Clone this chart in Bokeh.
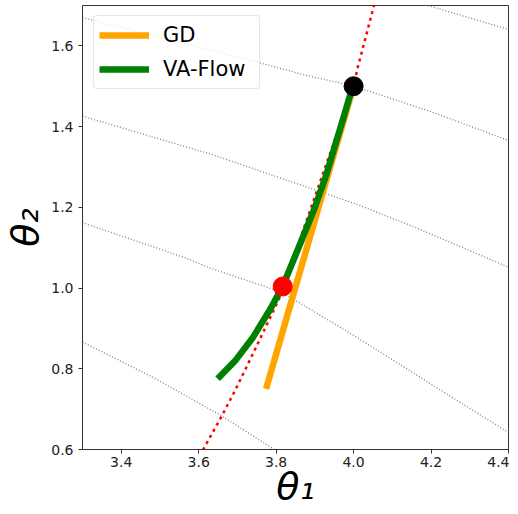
from bokeh.plotting import figure
from bokeh.models import FixedTicker, Legend, LegendItem, Range1d
from bokeh.embed import file_html
from bokeh.resources import INLINE

# ---- data ----
x_ticks = [3.4, 3.6, 3.8, 4.0, 4.2, 4.4]
x_tick_labels = ["3.4", "3.6", "3.8", "4.0", "4.2", "4.4"]
y_ticks = [0.6, 0.8, 1.0, 1.2, 1.4, 1.6]
y_tick_labels = ["0.6", "0.8", "1.0", "1.2", "1.4", "1.6"]

# loss contours (dotted grey)
contour_e_x = [4.118, 4.192, 4.399]
contour_e_y = [1.721, 1.700, 1.641]
contour_a_x = [3.300, 3.530, 3.762, 3.869, 4.001, 4.200, 4.399]
contour_a_y = [1.670, 1.614, 1.557, 1.529, 1.500, 1.437, 1.366]
contour_b_x = [3.300, 3.598, 3.628, 3.916, 4.015, 4.160, 4.399]
contour_b_y = [1.426, 1.341, 1.333, 1.238, 1.205, 1.150, 1.052]
contour_c_x = [3.300, 3.568, 3.628, 3.816, 4.015, 4.200, 4.400]
contour_c_y = [1.162, 1.074, 1.050, 0.989, 0.874, 0.762, 0.642]
contour_d_x = [3.300, 3.480, 3.658, 3.792, 3.834]
contour_d_y = [0.866, 0.780, 0.684, 0.602, 0.575]

# red dotted curve
red_x = [3.611, 3.658, 3.696, 3.744, 3.808, 4.000, 4.010, 4.053]
red_y = [0.599, 0.680, 0.750, 0.845, 0.974, 1.500, 1.544, 1.701]

# GD trajectory
gd_x = [4.000, 3.774]
gd_y = [1.500, 0.750]

# VA-Flow trajectory
va_x = [3.998, 3.981, 3.955, 3.929, 3.899, 3.864, 3.827, 3.817, 3.787, 3.739, 3.696, 3.649]
va_y = [1.501, 1.445, 1.362, 1.279, 1.197, 1.114, 1.028, 1.005, 0.951, 0.876, 0.822, 0.775]

# markers
start_x, start_y = [4.000], [1.500]
mid_x, mid_y = [3.817], [1.004]

FONT = "DejaVu Sans"

p = figure(
    output_backend="svg",
    toolbar_location=None,
    frame_width=426,
    frame_height=444,
    min_border_left=75,
    min_border_right=1,
    min_border_top=5,
    min_border_bottom=40,
    x_range=Range1d(3.3, 4.4),
    y_range=Range1d(0.6, 1.7),
)
p.background_fill_color = "white"
p.border_fill_color = "white"
p.outline_line_color = "#333333"
p.outline_line_width = 1
p.xgrid.visible = False
p.ygrid.visible = False

for c_x, c_y in [(contour_e_x, contour_e_y), (contour_a_x, contour_a_y),
                 (contour_b_x, contour_b_y), (contour_c_x, contour_c_y),
                 (contour_d_x, contour_d_y)]:
    p.line(c_x, c_y, line_color="#7f7f7f", line_width=1.3, line_dash="1 2")

p.line(red_x, red_y, line_color="red", line_width=2.5, line_dash="3 4")
r_gd = p.line(gd_x, gd_y, line_color="orange", line_width=6.5)
r_va = p.line(va_x, va_y, line_color="green", line_width=6.5, line_join="round")
p.scatter(start_x, start_y, size=19, fill_color="black", line_color="black")
p.scatter(mid_x, mid_y, size=19, fill_color="red", line_color="red")

# axes
for ax, ticks, labels in [(p.xaxis[0], x_ticks, x_tick_labels), (p.yaxis[0], y_ticks, y_tick_labels)]:
    ax.ticker = FixedTicker(ticks=ticks)
    ax.major_label_overrides = {t: l for t, l in zip(ticks, labels)}
    ax.minor_tick_line_color = None
    ax.major_tick_in = 0
    ax.major_tick_out = 4
    ax.major_tick_line_color = "#333333"
    ax.axis_line_color = "#333333"
    ax.major_label_text_font = FONT
    ax.major_label_text_font_size = "14px"
    ax.major_label_text_color = "#222222"
    ax.axis_label_text_font = FONT
    ax.axis_label_text_font_size = "38px"
    ax.axis_label_text_font_style = "italic"
    ax.axis_label_text_color = "black"

p.xaxis.axis_label = "θ₁"
p.yaxis.axis_label = "θ₂"
p.xaxis.major_label_standoff = 3
p.yaxis.major_label_standoff = 5
p.xaxis.axis_label_standoff = -6
p.yaxis.axis_label_standoff = 1

legend = Legend(
    items=[LegendItem(label="GD", renderers=[r_gd]),
           LegendItem(label="VA-Flow", renderers=[r_va])],
    location=(11, 360),
    margin=0,
    padding=5,
    spacing=6,
    glyph_width=50,
    glyph_height=28,
    label_height=28,
    label_width=91,
    label_standoff=14,
    label_text_font=FONT,
    label_text_font_size="21px",
    label_text_color="black",
    border_line_color="#cccccc",
    border_line_width=1,
    background_fill_color="white",
    background_fill_alpha=0.8,
)
try:
    legend.border_radius = 4
except Exception:
    pass
p.add_layout(legend)

open("out.html", "w").write(file_html(p, INLINE))
